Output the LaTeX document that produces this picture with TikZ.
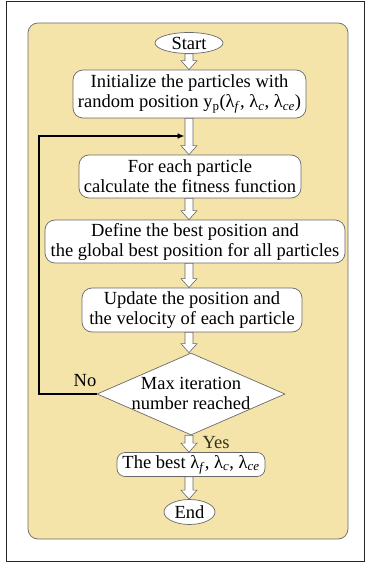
\documentclass[tikz,border=0pt]{standalone}
\usepackage{fontspec}
\setmainfont{Liberation Serif}
\usetikzlibrary{shapes.geometric,calc,arrows.meta}
\definecolor{beige}{RGB}{245,228,170}
\definecolor{boxline}{RGB}{105,105,105}
\definecolor{yescol}{RGB}{50,50,30}
\newcommand{\flowfont}{\fontsize{18.5}{20}\selectfont}
\newcommand{\blockarrow}[2]{%
  \draw[arrowline] let \p1=(#1), \p2=(#2), \p3=(col) in
    ({\x3-4pt},\y1) -- ({\x3+4pt},\y1) -- ({\x3+4pt},{\y2+9pt}) --
    ({\x3+8pt},{\y2+9pt}) -- (\x3,\y2) -- ({\x3-8pt},{\y2+9pt}) --
    ({\x3-4pt},{\y2+9pt}) -- cycle;}
\tikzset{
  procbox/.style={draw=boxline, fill=white, rounded corners=10pt, line width=0.7pt,
    align=center, inner sep=0pt, font=\flowfont},
  term/.style={ellipse, draw=boxline, fill=white, line width=0.7pt, inner sep=0pt,
    font=\flowfont},
  decision/.style={diamond, draw=boxline, fill=white, line width=0.7pt, inner sep=0pt},
  arrowline/.style={draw=boxline, fill=white, line width=0.6pt, line join=miter},
  feedback/.style={draw=black, line width=1.6pt, -{Latex[length=7pt,width=6pt]}},
  lbl/.style={font=\flowfont, inner sep=0pt}
}
\begin{document}
\begin{tikzpicture}[x=1pt,y=-1pt]
  \useasboundingbox (0,0) rectangle (365,564);
  % outer frame
  \draw[black!85, line width=1pt] (6,1.5) rectangle (364,561);
  % background panel
  \draw[boxline, fill=beige, line width=0.7pt, rounded corners=10pt] (28,23) rectangle (348,539);
  \coordinate (col) at (189,0);
  % nodes
  \node[term, minimum width=68pt, minimum height=21pt] (start) at (189,43) {Start};
  \node[procbox, minimum width=233pt, minimum height=48pt] (init) at (189.5,94)
    {Initialize the particles with\\random position y\textsubscript{p}(λ\textsubscript{\textit{f}}, λ\textsubscript{\textit{c}}, λ\textsubscript{\textit{ce}})};
  \node[procbox, minimum width=222pt, minimum height=43pt] (foreach) at (190,176.5)
    {For each particle\\calculate the fitness function};
  \node[procbox, minimum width=300pt, minimum height=43pt] (define) at (195,241.5)
    {Define the best position and\\the global best position for all particles};
  \node[procbox, minimum width=220pt, minimum height=44pt] (update) at (192,310)
    {Update the position and\\the velocity of each particle};
  \node[decision, minimum width=188pt, minimum height=82pt] (dec) at (191,394) {};
  \node[lbl, align=center] (dectext) at (191,393) {Max iteration\\number reached};
  \node[procbox, rounded corners=8pt, minimum width=148pt, minimum height=24pt] (best) at (191,464.5)
    {The best λ\textsubscript{\textit{f}}, λ\textsubscript{\textit{c}}, λ\textsubscript{\textit{ce}}};
  \node[term, minimum width=51pt, minimum height=25pt] (end) at (189.5,512) {End};
  % block arrows
  \blockarrow{start.south}{init.north}
  \blockarrow{init.south}{foreach.north}
  \blockarrow{foreach.south}{define.north}
  \blockarrow{define.south}{update.north}
  \blockarrow{update.south}{dec.north}
  \blockarrow{dec.south}{best.north}
  \blockarrow{best.south}{end.north}
  % feedback loop
  \coordinate (lc) at (39,136);
  \coordinate (loopend) at (184.5,136);
  \draw[feedback] (dec.west) -| (lc) -- (loopend);
  % labels
  \node[lbl] (no) at (85,381) {No};
  \node[lbl, text=yescol] (yes) at (216,443) {Yes};
\end{tikzpicture}
\end{document}
